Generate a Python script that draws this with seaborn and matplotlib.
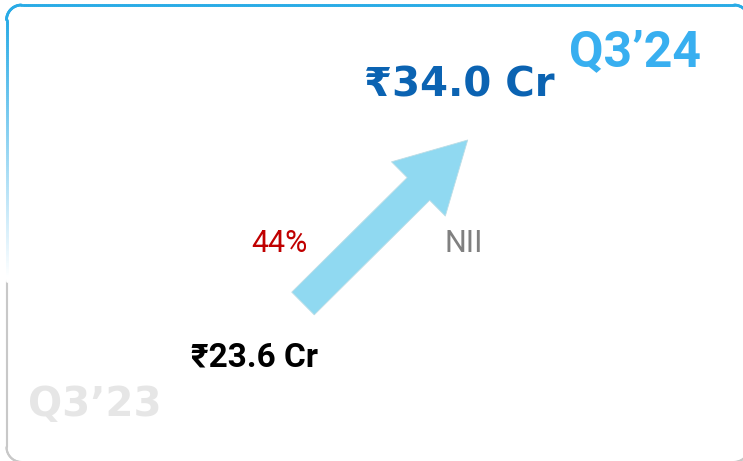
import numpy as np
import matplotlib
matplotlib.use('Agg')
import matplotlib.pyplot as plt
from matplotlib.collections import LineCollection
from matplotlib.colors import to_rgb
import seaborn as sns

periods = ['Q3’23', 'Q3’24']
nii_values = [23.6, 34.0]
value_labels = ['₹23.6 Cr', '₹34.0 Cr']
growth_label = '44%'
metric_label = 'NII'

sns.set_theme(style='white')
plt.rcParams['font.family'] = ['Roboto', 'Noto Sans', 'DejaVu Sans']

W, H = 743, 461
fig = plt.figure(figsize=(W / 100, H / 100), dpi=100)
fig.patch.set_facecolor('white')

# pixel canvas for the card outline and corner labels
bg = fig.add_axes([0, 0, 1, 1])
bg.set_xlim(0, W)
bg.set_ylim(H, 0)
bg.axis('off')


def rounded_rect(x0, y0, x1, y1, r, n=24):
    def arc(cx, cy, a0, a1):
        a = np.radians(np.linspace(a0, a1, n))
        return np.column_stack([cx + r * np.cos(a), cy + r * np.sin(a)])
    pts = np.vstack([arc(x0 + r, y0 + r, 180, 270), arc(x1 - r, y0 + r, 270, 360),
                     arc(x1 - r, y1 - r, 0, 90), arc(x0 + r, y1 - r, 90, 180)])
    pts = np.vstack([pts, pts[:1]])
    # densify so the left edge can fade
    dense = [pts[0]]
    for a, b in zip(pts[:-1], pts[1:]):
        k = max(int(np.hypot(*(b - a)) / 2), 1)
        for t in np.linspace(0, 1, k + 1)[1:]:
            dense.append(a + (b - a) * t)
    return np.array(dense)


pts = rounded_rect(6.5, 5, 749, 462, 15)
segs = np.stack([pts[:-1], pts[1:]], axis=1)
blue = np.array(to_rgb('#29abe6'))
grey = np.array(to_rgb('#c8c8c8'))
white = np.ones(3)
cols, widths = [], []
for s in segs:
    mx, my = s.mean(axis=0)
    if my >= 281:
        cols.append(grey); widths.append(1.5)
    elif mx < 30 and my > 20:
        t = np.clip((my - 20) / 255, 0, 1)
        cols.append(blue * (1 - t) + white * t); widths.append(2.0)
    else:
        cols.append(blue); widths.append(2.0)
bg.add_collection(LineCollection(segs, colors=cols, linewidths=widths, capstyle='round'))

bg.text(635, 66, periods[1], color='#38aff0', fontsize=36, fontweight='bold',
        ha='center', va='baseline')
bg.text(95, 416, periods[0], color='#e6e6e6', fontsize=29, fontweight='bold',
        ha='center', va='baseline', family=['DejaVu Sans'])

# growth arrow in value space
ax = fig.add_axes([303 / W, 1 - 303.5 / H, (467.7 - 303) / W, (303.5 - 140) / H])
ax.set_xlim(0, 1)
ax.set_ylim(min(nii_values), max(nii_values))
ax.axis('off')
ax.patch.set_alpha(0)
xs = [0, 1]
ax.annotate('', xy=(xs[1], nii_values[1]), xytext=(xs[0], nii_values[0]),
            annotation_clip=False,
            arrowprops=dict(arrowstyle='simple,head_length=50,head_width=55,tail_width=23',
                            mutation_scale=1, shrinkA=0, shrinkB=0,
                            fc='#90d9f1', ec='#bcdde6', lw=0.6))

ax.annotate(value_labels[0], xy=(xs[0], nii_values[0]), xytext=(-34.6, -45.5),
            textcoords='offset points', ha='center', va='baseline', annotation_clip=False,
            fontsize=24, fontweight='bold', color='black')
ax.annotate(value_labels[1], xy=(xs[1], nii_values[1]), xytext=(-5.9, 31),
            textcoords='offset points', ha='center', va='baseline', annotation_clip=False,
            fontsize=29, fontweight='bold', color='#0b63b2', family=['DejaVu Sans'])

mid = (0.5, sum(nii_values) / 2)
ax.annotate(growth_label, xy=mid, xytext=(-76.6, -21.6), textcoords='offset points',
            ha='center', va='baseline', annotation_clip=False, fontsize=22, color='#c00000')
ax.annotate(metric_label, xy=mid, xytext=(56.6, -21.6), textcoords='offset points',
            ha='center', va='baseline', annotation_clip=False, fontsize=22, color='#808080')

fig.savefig('out.png', dpi=100)
